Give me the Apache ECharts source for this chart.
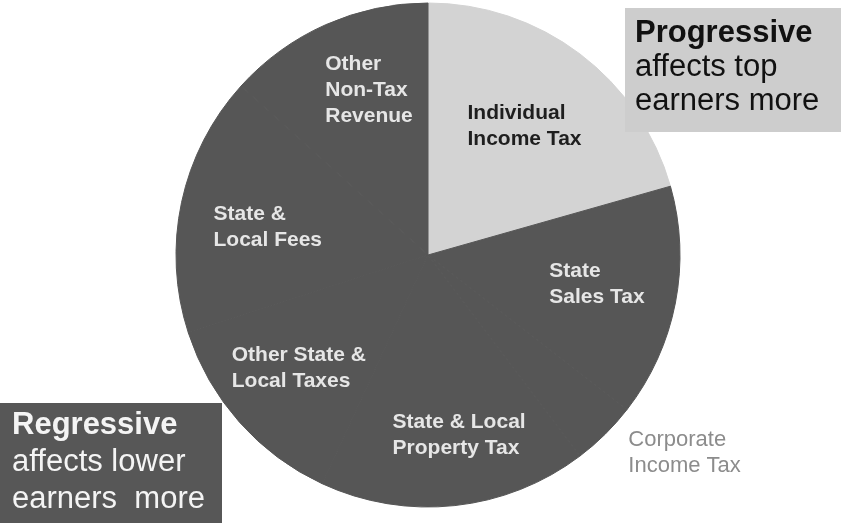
<!DOCTYPE html>
<html><head><meta charset="utf-8">
<script src="https://cdn.jsdelivr.net/npm/echarts@6/dist/echarts.min.js"></script>
<style>html,body{margin:0;padding:0;background:#fff}#c{width:841px;height:523px}</style>
</head><body><div id="c"></div>
<script>
// ---- data ----
const categories = ['Individual Income Tax', 'State Sales Tax', 'Corporate Income Tax',
  'State & Local Property Tax', 'Other State & Local Taxes', 'State & Local Fees', 'Other Non-Tax Revenue'];
const shares = [20.6, 14.9, 4.2, 17.2, 13.1, 16.7, 13.3];
const taxClass = ['progressive', 'regressive', 'regressive', 'regressive', 'regressive', 'regressive', 'regressive'];
const labelLines = [
  ['Individual', 'Income Tax'],
  ['State', 'Sales Tax'],
  ['Corporate', 'Income Tax'],
  ['State & Local', 'Property Tax'],
  ['Other State &', 'Local Taxes'],
  ['State &', 'Local Fees'],
  ['Other', 'Non-Tax', 'Revenue']
];
const labelOutside = [false, false, true, false, false, false, false];
const progressiveNote = ['Progressive', 'affects top', 'earners more'];
const regressiveNote = ['Regressive', 'affects lower', 'earners  more'];

// ---- styles ----
const FONT = '"Liberation Sans", Arial, Helvetica, sans-serif';
const classColor = { progressive: '#d3d3d3', regressive: '#565656' };
const classText = { progressive: '#1e1e1e', regressive: '#e6e6e6' };
const CX = 428, CY = 255, R = 252;
// small nudges of the inside labels (pixels), keyed by category
const labelNudge = {
  'Individual Income Tax': [-6, 7],
  'State Sales Tax': [2, -3],
  'State & Local Property Tax': [13, 11],
  'Other State & Local Taxes': [-2, 0],
  'State & Local Fees': [6, 8],
  'Other Non-Tax Revenue': [10, -9]
};

const mainData = categories.map((name, i) => {
  const c = classColor[taxClass[i]];
  const item = { name, value: shares[i], itemStyle: { color: c, borderColor: c, borderWidth: 1 } };
  if (labelOutside[i]) {
    item.label = {
      show: true, position: 'outside', formatter: labelLines[i].join('\n'),
      color: '#8c8c8c', fontFamily: FONT, fontSize: 22, lineHeight: 26, fontWeight: 'normal'
    };
    item.labelLine = { show: false, length: 26, length2: 0 };
  }
  return item;
});

const overlayData = categories.map((name, i) => {
  const key = taxClass[i] === 'progressive' ? 'd' : 'a';
  return {
    name, value: shares[i],
    label: labelOutside[i] ? { show: false } : {
      show: true,
      offset: labelNudge[name] || [0, 0],
      formatter: labelLines[i].map(l => '{' + key + '|' + l + '}').join('\n')
    }
  };
});

const richBase = { fontFamily: FONT, fontSize: 21, fontWeight: 'bold', lineHeight: 26, align: 'left' };

const chart = echarts.init(document.getElementById('c'), null, { renderer: 'canvas' });
chart.setOption({
  animation: false,
  backgroundColor: '#ffffff',
  series: [
    {
      type: 'pie', center: [CX, CY], radius: R, startAngle: 90, clockwise: true,
      silent: true, avoidLabelOverlap: false,
      label: { show: false },
      labelLine: { show: false },
      data: mainData
    },
    {
      type: 'pie', center: [CX, CY], radius: [82, R], startAngle: 90, clockwise: true,
      silent: true, avoidLabelOverlap: false,
      itemStyle: { color: 'rgba(0,0,0,0)', borderWidth: 0 },
      label: {
        show: true, position: 'inside',
        rich: {
          a: Object.assign({ color: classText.regressive }, richBase),
          d: Object.assign({ color: classText.progressive }, richBase)
        }
      },
      labelLine: { show: false },
      data: overlayData
    }
  ],
  graphic: [
    { type: 'rect', z: 100, shape: { x: 625, y: 8, width: 216, height: 124 }, style: { fill: '#cdcdcd' } },
    { type: 'text', z: 101, style: {
        x: 635, y: 16, text: '{b|' + progressiveNote[0] + '}\n{r|' + progressiveNote[1] + '}\n{r|' + progressiveNote[2] + '}',
        verticalAlign: 'top', align: 'left',
        rich: {
          b: { fontFamily: FONT, fontSize: 31, fontWeight: 'bold', lineHeight: 34, fill: '#111' },
          r: { fontFamily: FONT, fontSize: 31, fontWeight: 'normal', lineHeight: 34, fill: '#111' }
        }
    } },
    { type: 'rect', z: 100, shape: { x: 0, y: 403, width: 222, height: 120 }, style: { fill: '#575757' } },
    { type: 'text', z: 101, style: {
        x: 12, y: 407, text: '{b|' + regressiveNote[0] + '}\n{r|' + regressiveNote[1] + '}\n{r|' + regressiveNote[2] + '}',
        verticalAlign: 'top', align: 'left',
        rich: {
          b: { fontFamily: FONT, fontSize: 31, fontWeight: 'bold', lineHeight: 37, fill: '#f4f4f4' },
          r: { fontFamily: FONT, fontSize: 31, fontWeight: 'normal', lineHeight: 37, fill: '#f4f4f4' }
        }
    } }
  ]
});
</script>
</body></html>
